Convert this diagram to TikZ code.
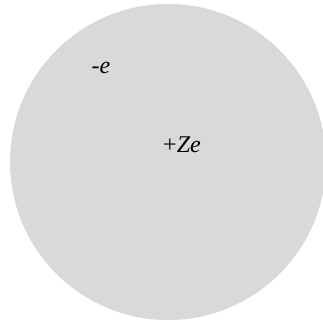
\documentclass[tikz,border=0pt]{standalone}
\usepackage{fontspec}
\setmainfont{Liberation Serif}
\definecolor{ballgray}{HTML}{D9D9D9}
\begin{document}
\begin{tikzpicture}[x=1pt,y=1pt,
  lbl/.style={inner sep=0pt, font=\fontsize{24}{28}\selectfont}]
\useasboundingbox (0,0) rectangle (323,324);
\begin{scope}
\clip (0,0) rectangle (323,324);
\fill[ballgray] (168,162) circle (158);
\end{scope}
\node[lbl] (el) at (101,256) {\itshape -e};
\node[lbl] (nuc) at (182,179) {+\textit{Ze}};
\end{tikzpicture}
\end{document}
